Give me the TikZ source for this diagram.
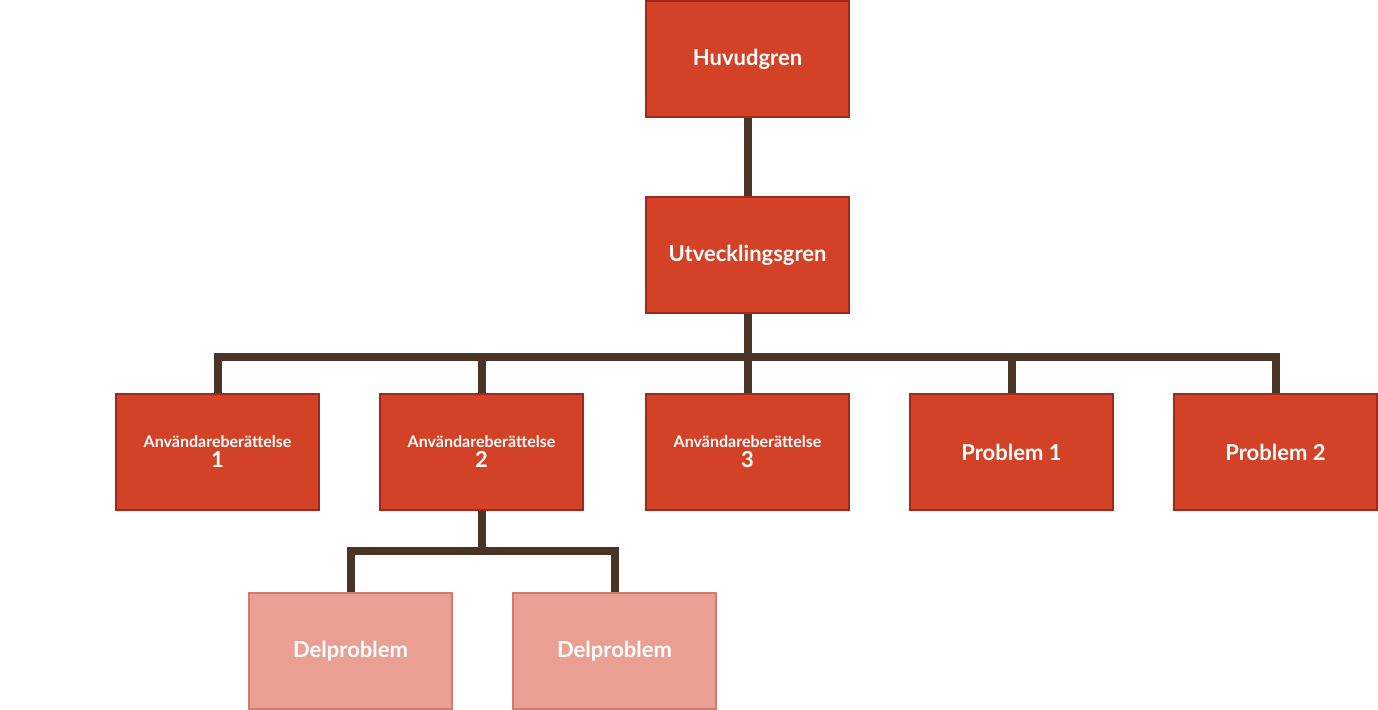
\documentclass[tikz,border=0pt]{standalone}
\usepackage{fontspec}
\setmainfont{Lato}
\usetikzlibrary{positioning}
\definecolor{boxred}{HTML}{D34127}
\definecolor{boxedge}{HTML}{A3281C}
\definecolor{boxpale}{HTML}{E9A092}
\definecolor{paleedge}{HTML}{D07A72}
\definecolor{stem}{HTML}{4A3426}
\tikzset{
  branch/.style={rectangle, fill=boxred, draw=boxedge, line width=1pt, minimum width=101.5pt, minimum height=58pt, text=white, font=\bfseries\fontsize{11}{13}\selectfont, align=center, inner sep=1pt},
  story/.style={branch, font=\bfseries\fontsize{8}{10}\selectfont},
  subtask/.style={branch, fill=boxpale, draw=paleedge},
  link/.style={stem, line width=4pt}
}
\begin{document}
\begin{tikzpicture}[x=0.5pt,y=-0.5pt]
\useasboundingbox (0,0) rectangle (1378,710);

% trunk
\node[branch] (main) at (747.5,59) {Huvudgren};
\node[branch] (dev) at (747.5,255) {Utvecklingsgren};

% stories and problems
\node[story] (us1) at (217.5,452) {Användareberättelse\\{\fontsize{11}{13}\selectfont 1}};
\node[story] (us2) at (481.5,452) {Användareberättelse\\{\fontsize{11}{13}\selectfont 2}};
\node[story] (us3) at (747.5,452) {Användareberättelse\\{\fontsize{11}{13}\selectfont 3}};
\node[branch] (pr1) at (1011.5,452) {Problem 1};
\node[branch] (pr2) at (1275.5,452) {Problem 2};

% sub problems
\node[subtask] (sub1) at (350.5,651) {Delproblem};
\node[subtask] (sub2) at (614.5,651) {Delproblem};

% connectors
\draw[link] (main) -- (dev);
\foreach \n in {us1,us2,us3,pr1,pr2}
  \draw[link] (dev.south) -- ++(0,43) -| (\n.north);
\foreach \n in {sub1,sub2}
  \draw[link] (us2.south) -- ++(0,40) -| (\n.north);

\end{tikzpicture}
\end{document}
